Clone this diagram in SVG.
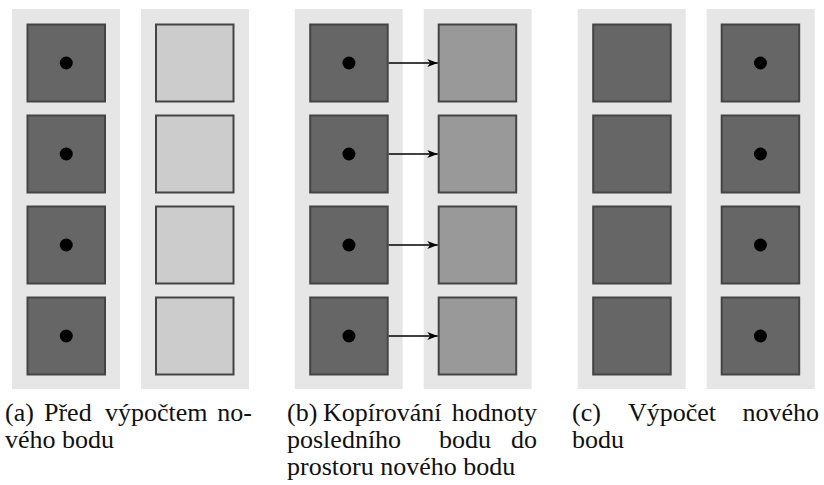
<svg xmlns="http://www.w3.org/2000/svg" width="824" height="485" viewBox="0 0 824 485">
<style>
.bg{fill:#e6e6e6}
.dk{fill:#666;stroke:#444;stroke-width:2}
.lt{fill:#ccc;stroke:#444;stroke-width:2}
.md{fill:#999;stroke:#444;stroke-width:2}
.dot{fill:#000}
.arr{stroke:#000;stroke-width:1.3;fill:none;marker-end:url(#ah)}
text{font-family:"Liberation Serif",serif;font-size:26px;fill:#111}
</style>
<defs>
<marker id="ah" markerWidth="11" markerHeight="9" refX="10.5" refY="4.5" orient="auto" markerUnits="userSpaceOnUse">
<path d="M0,0.5 L10.5,4.5 L0,8.5 L3,4.5 Z" fill="#000"/>
</marker>
<g id="dcol">
<rect x="15.5" y="24.5" width="77.5" height="77" class="dk"/>
<rect x="15.5" y="115.5" width="77.5" height="77" class="dk"/>
<rect x="15.5" y="206.5" width="77.5" height="77" class="dk"/>
<rect x="15.5" y="297.5" width="77.5" height="77" class="dk"/>
</g>
<g id="dots">
<circle cx="54.25" cy="63" r="6.5" class="dot"/>
<circle cx="54.25" cy="154" r="6.5" class="dot"/>
<circle cx="54.25" cy="245" r="6.5" class="dot"/>
<circle cx="54.25" cy="336" r="6.5" class="dot"/>
</g>
</defs>

<g id="panel-a" transform="translate(12,0)">
<rect x="0" y="9" width="108" height="380" class="bg"/>
<rect x="129" y="9" width="108" height="380" class="bg"/>
<g id="a-left"><use href="#dcol"/><use href="#dots"/></g>
<g id="a-right">
<rect x="144" y="24.5" width="77.5" height="77" class="lt"/>
<rect x="144" y="115.5" width="77.5" height="77" class="lt"/>
<rect x="144" y="206.5" width="77.5" height="77" class="lt"/>
<rect x="144" y="297.5" width="77.5" height="77" class="lt"/>
</g>
</g>

<g id="panel-b" transform="translate(294.7,0)">
<rect x="0" y="9" width="108" height="380" class="bg"/>
<rect x="129" y="9" width="108" height="380" class="bg"/>
<g id="b-left"><use href="#dcol"/><use href="#dots"/></g>
<g id="b-right">
<rect x="144" y="24.5" width="77.5" height="77" class="md"/>
<rect x="144" y="115.5" width="77.5" height="77" class="md"/>
<rect x="144" y="206.5" width="77.5" height="77" class="md"/>
<rect x="144" y="297.5" width="77.5" height="77" class="md"/>
</g>
<g id="connectors">
<line x1="94" y1="63" x2="143" y2="63" class="arr"/>
<line x1="94" y1="154" x2="143" y2="154" class="arr"/>
<line x1="94" y1="245" x2="143" y2="245" class="arr"/>
<line x1="94" y1="336" x2="143" y2="336" class="arr"/>
</g>
</g>

<g id="panel-c" transform="translate(577.7,0)">
<rect x="0" y="9" width="108" height="380" class="bg"/>
<rect x="129" y="9" width="108" height="380" class="bg"/>
<g id="c-left"><use href="#dcol"/></g>
<g id="c-right">
<use href="#dcol" transform="translate(128.5,0)"/>
<use href="#dots" transform="translate(128.5,0)"/>
</g>
</g>

<g id="captions">
<text x="5" y="421">(a)</text>
<text x="44" y="421">Před</text>
<text x="105" y="421">výpočtem</text>
<text x="252" y="421" text-anchor="end">no-</text>
<text x="5" y="448">vého bodu</text>

<text x="287" y="421">(b)</text>
<text x="323" y="421">Kopírování</text>
<text x="537" y="421" text-anchor="end">hodnoty</text>
<text x="287" y="448">posledního</text>
<text x="439" y="448">bodu</text>
<text x="537" y="448" text-anchor="end">do</text>
<text x="287" y="475">prostoru nového bodu</text>

<text x="572" y="421">(c)</text>
<text x="628" y="421">Výpočet</text>
<text x="819" y="421" text-anchor="end">nového</text>
<text x="572" y="448">bodu</text>
</g>
</svg>
